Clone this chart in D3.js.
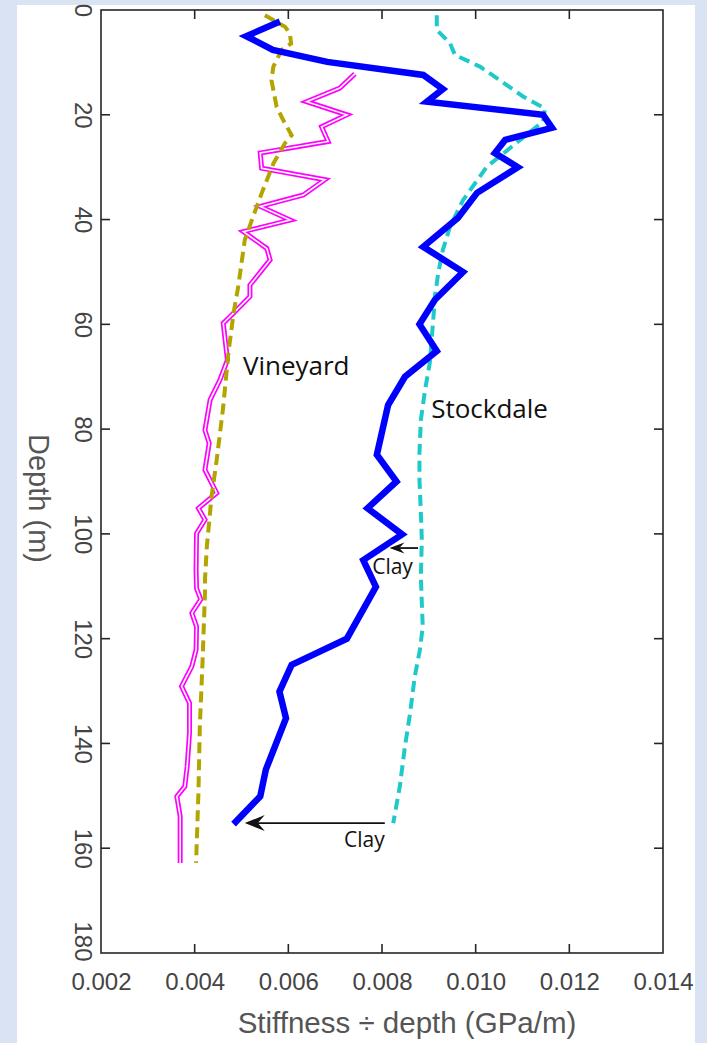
<!DOCTYPE html>
<html>
<head>
<meta charset="utf-8">
<script src="https://cdn.jsdelivr.net/npm/d3@7"></script>
<style>
  html, body { margin: 0; padding: 0; background: #dae3f3; }
  svg { display: block; }
</style>
</head>
<body>
<svg id="chart" width="707" height="1043"></svg>
<script>
// ---------- data ----------
const xTicks = [0.002, 0.004, 0.006, 0.008, 0.010, 0.012, 0.014];
const yTicks = [0, 20, 40, 60, 80, 100, 120, 140, 160, 180];

// Stockdale measured (solid blue)
const stockdaleDepth = [2.2,5,7.6,9.9,12.4,15.1,17.5,20,22.5,24.8,27.3,30,34.9,39.7,45.2,50,55.3,60,65.1,70,75.4,84.9,90,95.1,100.1,105,110.1,120,125,130.1,135.2,145,150.1,155.4];
const stockdaleValue = [0.00582,0.0051,0.00567,0.00683,0.00888,0.0093,0.00896,0.01144,0.01163,0.01063,0.01041,0.0109,0.01003,0.00962,0.00888,0.00973,0.00913,0.0088,0.00917,0.00849,0.00813,0.00789,0.00831,0.00769,0.00843,0.0076,0.00787,0.00725,0.00607,0.00581,0.00595,0.00552,0.0054,0.00483];

// Stockdale model (dashed cyan)
const stockdaleModelDepth = [1,3.8,6.3,8.6,10.8,13,16.5,18.8,21.3,24.8,29.9,36.3,41.4,45.8,50.2,54.7,57.3,67.4,72.5,78.2,84.5,89.7,96,101.1,108.1,113.2,117.7,122.1,127.2,134.2,140.6,148.2,155.2];
const stockdaleModelValue = [0.00917,0.00917,0.00945,0.00956,0.01009,0.01045,0.01101,0.01148,0.01144,0.01095,0.01024,0.00973,0.00945,0.0093,0.0092,0.00913,0.00911,0.00902,0.00892,0.00883,0.0088,0.0088,0.00883,0.00885,0.00883,0.00885,0.00887,0.00881,0.0087,0.0086,0.00849,0.00838,0.00824];

// Vineyard measured (magenta double line)
const vineyardDepth = [12.2,14.9,17.5,20,22.3,25.1,27.3,30.2,32.4,35.3,37.5,40.1,42.3,45.5,47.7,52.5,54.7,58.2,59.8,66.8,70.6,74.4,80.2,82.7,87.8,92.2,95.1,97.3,99.9,106.9,110.4,112.5,115.1,117.7,122.1,125.3,129.1,132.3,138,144.4,148.2,150.1,153.9,162.8];
const vineyardValue = [0.00742,0.0071,0.00639,0.00725,0.00671,0.00685,0.0054,0.00543,0.00678,0.00632,0.0054,0.00604,0.00504,0.00554,0.00561,0.00518,0.00518,0.00479,0.00461,0.0047,0.00454,0.00433,0.00422,0.00431,0.00422,0.00447,0.00408,0.00422,0.00404,0.00403,0.00404,0.00413,0.00394,0.00404,0.00403,0.00394,0.00372,0.00389,0.00389,0.00384,0.00379,0.00362,0.00369,0.00369];

// Vineyard model (dashed olive)
const vineyardModelDepth = [1,3.2,4.4,6.4,7.6,10.8,13.4,18.5,21,23.9,25.4,29.3,35,39.4,43.9,52.8,57.9,65.5,75.7,85.9,92.9,102.4,108.8,111.3,124,136.8,149.5,162.8];
const vineyardModelValue = [0.0055,0.00593,0.00603,0.00606,0.00586,0.00568,0.00564,0.00575,0.00589,0.00607,0.00593,0.00568,0.00543,0.00525,0.00507,0.00493,0.00483,0.00472,0.00461,0.00447,0.00436,0.00426,0.00422,0.00422,0.00417,0.00411,0.00408,0.00403];

// Annotations (data coordinates)
const siteLabels = [
  { text: "Vineyard", x: 0.00503, depth: 69.7 },
  { text: "Stockdale", x: 0.00905, depth: 77.9 }
];
const clayArrows = [
  { x0: 0.00877, x1: 0.00816, depth: 102.7, head: 15, half: 5.5, labelX: 0.00779, labelDepth: 107.6 },
  { x0: 0.00806, x1: 0.00507, depth: 155.2, head: 20, half: 8, labelX: 0.00719, labelDepth: 159.8 }
];

// ---------- layout ----------
const svg = d3.select("#chart");
svg.append("rect").attr("x", 17).attr("y", 5).attr("width", 678).attr("height", 1038).attr("fill", "#ffffff");

const L = 101, R = 663, T = 10, B = 953;
const x = d3.scaleLinear().domain([0.002, 0.014]).range([L, R]);
const y = d3.scaleLinear().domain([0, 180]).range([T, B]);

const axisColor = "#262626";
const labelColor = "#444444";
const tickLen = 9;
const axisFont = "Liberation Sans, Arial, Helvetica, sans-serif";

// ---------- series ----------
const line = d3.line().x(d => x(d[0])).y(d => y(d[1]));
const zip = (vals, deps) => vals.map((v, i) => [v, deps[i]]);

const g = svg.append("g");
const vin = zip(vineyardValue, vineyardDepth);
g.append("path").attr("d", line(vin)).attr("fill", "none")
  .attr("stroke", "#ff00ff").attr("stroke-width", 5).attr("stroke-linejoin", "miter");
g.append("path").attr("d", line(vin)).attr("fill", "none")
  .attr("stroke", "#ffffff").attr("stroke-width", 1.6).attr("stroke-linejoin", "miter");

g.append("path").attr("d", line(zip(vineyardModelValue, vineyardModelDepth))).attr("fill", "none")
  .attr("stroke", "#b3a500").attr("stroke-width", 4).attr("stroke-dasharray", "11,6");

g.append("path").attr("d", line(zip(stockdaleModelValue, stockdaleModelDepth))).attr("fill", "none")
  .attr("stroke", "#1fc9c9").attr("stroke-width", 4).attr("stroke-dasharray", "11,6");

g.append("path").attr("d", line(zip(stockdaleValue, stockdaleDepth))).attr("fill", "none")
  .attr("stroke", "#0000ff").attr("stroke-width", 6.5).attr("stroke-linejoin", "miter").attr("stroke-miterlimit", 10);

// ---------- axes (box with inward ticks) ----------
const axG = svg.append("g");
axG.append("rect").attr("x", L).attr("y", T).attr("width", R - L).attr("height", B - T)
  .attr("fill", "none").attr("stroke", axisColor).attr("stroke-width", 1.6);

const bottomAxis = d3.axisBottom(x).tickValues(xTicks).tickSize(0).tickPadding(0).tickFormat(d3.format(".3f"));
const bAx = svg.append("g").attr("transform", `translate(0,${B})`).call(bottomAxis);
bAx.select(".domain").remove();
bAx.selectAll("text").attr("y", 37).attr("dy", null)
  .attr("font-family", axisFont).attr("font-size", 24).attr("fill", labelColor);

const leftAxis = d3.axisLeft(y).tickValues(yTicks).tickSize(0).tickPadding(0);
const lAx = svg.append("g").attr("transform", `translate(${L},0)`).call(leftAxis);
lAx.select(".domain").remove();
lAx.selectAll(".tick text")
  .attr("x", null)
  .attr("text-anchor", "middle")
  .attr("transform", d => `translate(-17,${d === 180 ? -12 : 0}) rotate(90)`)
  .attr("dy", "0.36em")
  .attr("font-family", axisFont).attr("font-size", 24).attr("fill", labelColor);

// tick marks on all four sides (skip ends)
const innerX = xTicks.slice(1, -1), innerY = yTicks.slice(1, -1);
innerX.forEach(v => {
  axG.append("line").attr("x1", x(v)).attr("x2", x(v)).attr("y1", B).attr("y2", B - tickLen).attr("stroke", axisColor).attr("stroke-width", 1.6);
  axG.append("line").attr("x1", x(v)).attr("x2", x(v)).attr("y1", T).attr("y2", T + tickLen).attr("stroke", axisColor).attr("stroke-width", 1.6);
});
innerY.forEach(v => {
  axG.append("line").attr("x1", L).attr("x2", L + tickLen).attr("y1", y(v)).attr("y2", y(v)).attr("stroke", axisColor).attr("stroke-width", 1.6);
  axG.append("line").attr("x1", R).attr("x2", R - tickLen).attr("y1", y(v)).attr("y2", y(v)).attr("stroke", axisColor).attr("stroke-width", 1.6);
});

// axis titles
svg.append("text").attr("x", 407).attr("y", 1033).attr("text-anchor", "middle")
  .attr("font-family", axisFont).attr("font-size", 29.5).attr("fill", "#555555")
  .text("Stiffness \u00f7 depth (GPa/m)");
svg.append("text").attr("transform", `translate(39,${(T + B) / 2 + 17}) rotate(90)`).attr("text-anchor", "middle")
  .attr("dy", "0.35em")
  .attr("font-family", axisFont).attr("font-size", 29).attr("fill", "#555555")
  .text("Depth (m)");

// ---------- annotations ----------
const annFont = "Open Sans, Noto Sans, sans-serif";
siteLabels.forEach(s => {
  svg.append("text").attr("x", x(s.x)).attr("y", y(s.depth))
    .attr("font-family", annFont).attr("font-size", 26).attr("fill", "#111111").text(s.text);
});
clayArrows.forEach(a => {
  const yy = y(a.depth), x0 = x(a.x0), x1 = x(a.x1);
  svg.append("line").attr("x1", x0).attr("x2", x1 + a.head * 0.6).attr("y1", yy).attr("y2", yy)
    .attr("stroke", "#111111").attr("stroke-width", 1.8);
  const p = d3.path();
  p.moveTo(x1, yy);
  p.lineTo(x1 + a.head, yy - a.half);
  p.lineTo(x1 + a.head * 0.65, yy);
  p.lineTo(x1 + a.head, yy + a.half);
  p.closePath();
  svg.append("path").attr("d", p.toString()).attr("fill", "#111111");
  svg.append("text").attr("x", x(a.labelX)).attr("y", y(a.labelDepth))
    .attr("font-family", annFont).attr("font-size", 21).attr("fill", "#111111").text("Clay");
});
</script>
</body>
</html>
